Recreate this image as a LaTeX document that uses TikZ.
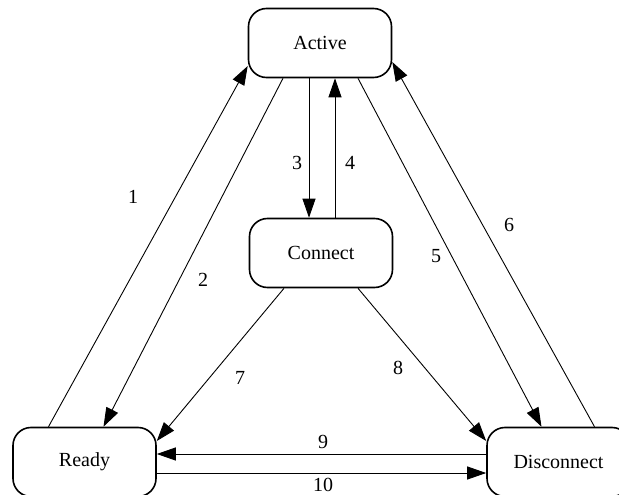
\documentclass[tikz,border=0pt]{standalone}
\usepackage{fontspec}
\setmainfont{Liberation Serif}
\usetikzlibrary{arrows.meta}
\begin{document}
\begin{tikzpicture}[x=1pt,y=-1pt,
  state/.style={draw, line width=1.6pt, rounded corners=18pt, minimum width=143pt, minimum height=69pt, inner sep=0pt, font=\fontsize{20}{24}\selectfont},
  edge/.style={line width=0.9pt, -{Triangle[length=19pt,width=13pt]}},
  lab/.style={inner sep=0pt, font=\fontsize{20}{24}\selectfont}]
\useasboundingbox (0,0) rectangle (619,495);
\begin{scope}
\clip (0,0) rectangle (619,495);
\node[state] (act) at (320,43) {Active};
\node[state] (con) at (321,253) {Connect};
\node[state] (rdy) at (84.5,462) {Ready};
\node[state] (dis) at (558.5,462) {Disconnect};

\draw[edge] ([xshift=-36pt]rdy.north) -- ([yshift=-23pt]act.west);
\draw[edge] ([xshift=-37pt]act.south) -- ([xshift=19pt]rdy.north);
\draw[edge] ([xshift=-11pt]act.south) -- ([xshift=-12pt]con.north);
\draw[edge] ([xshift=14pt]con.north) -- ([xshift=15pt]act.south);
\draw[edge] ([xshift=38pt]act.south) -- ([xshift=-17pt]dis.north);
\draw[edge] ([xshift=36pt]dis.north) -- ([yshift=-19pt]act.east);
\draw[edge] ([xshift=-37pt]con.south) -- ([yshift=21pt]rdy.east);
\draw[edge] ([xshift=37pt]con.south) -- ([yshift=21pt]dis.west);
\draw[edge] ([yshift=8pt]dis.west) -- ([yshift=8pt]rdy.east);
\draw[edge] ([yshift=-11pt]rdy.east) -- ([yshift=-11pt]dis.west);

\node[lab] (l1) at (133,197) {1};
\node[lab] (l2) at (203,280) {2};
\node[lab] (l3) at (297,163) {3};
\node[lab] (l4) at (350,163) {4};
\node[lab] (l5) at (436,256) {5};
\node[lab] (l6) at (509,225) {6};
\node[lab] (l7) at (240,378) {7};
\node[lab] (l8) at (398,368) {8};
\node[lab] (l9) at (323,442) {9};
\node[lab] (l10) at (323,485) {10};
\end{scope}
\end{tikzpicture}
\end{document}
